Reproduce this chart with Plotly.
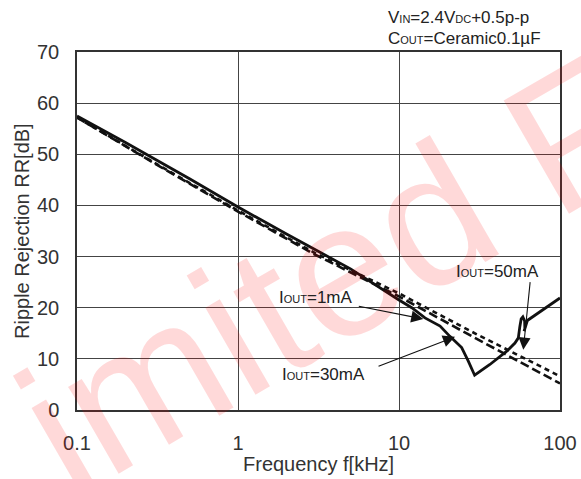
import math
import plotly.graph_objects as go

# ---- data ----
freq_30mA = [0.1, 0.2, 0.5, 1, 2, 5, 10, 12, 14.5, 18, 20.7, 24.5, 26.9, 29.5,
             36.7, 46.7, 52.5, 55.1, 56.3, 57.4, 58.8, 60.3, 60.5, 59.8, 62.7, 100]
rr_30mA = [57.5, 52.3, 45.2, 39.7, 34.4, 27.6, 21.5, 20.0, 18.0, 16.4, 14.4, 12.2, 9.6, 6.8,
           8.9, 11.5, 13.1, 14.1, 16.3, 17.8, 18.2, 17.4, 15.9, 15.4, 17.5, 21.9]

freq_1mA = [0.1, 0.3, 1, 3, 10, 30, 100]
rr_1mA = [57.2, 48.3, 38.8, 30.4, 22.2, 14.0, 5.2]

freq_50mA = [0.1, 0.3, 1, 3, 10, 30, 100]
rr_50mA = [57.2, 48.4, 39.0, 30.7, 22.8, 14.9, 6.6]

x_tickvals = [0.1, 1, 10, 100]
x_ticktext = ["0.1", "1", "10", "100"]
y_tickvals = [0, 10, 20, 30, 40, 50, 60, 70]

FONT = "Liberation Sans, Arial, Helvetica, sans-serif"
W, H = 581, 479
L, R, T, B = 77, 21, 52, 69
PW, PH = W - L - R, H - T - B

def px_to_paper(px, py):
    return (px - L) / PW, (H - B - py) / PH

fig = go.Figure()
fig.add_trace(go.Scatter(x=freq_1mA, y=rr_1mA, mode="lines", name="IOUT=1mA",
                         line=dict(color="#111", width=2.6, dash="9px,4px")))
fig.add_trace(go.Scatter(x=freq_50mA, y=rr_50mA, mode="lines", name="IOUT=50mA",
                         line=dict(color="#111", width=2.6, dash="5px,4px")))
fig.add_trace(go.Scatter(x=freq_30mA, y=rr_30mA, mode="lines", name="IOUT=30mA",
                         line=dict(color="#111", width=2.8)))

small = lambda s: f"<span style='font-size:11px'>{s}</span>"
ann = []
# watermark (drawn first, semi-transparent)
wx, wy = px_to_paper(284, 302)
ann.append(dict(x=wx, y=wy, xref="paper", yref="paper", text="Limited F", showarrow=False,
                textangle=-30, xanchor="center", yanchor="middle",
                font=dict(size=190, color="rgba(255,0,0,0.15)", family=FONT)))

# condition text
for txt, py in [("V" + small("IN") + "=2.4V" + small("DC") + "+0.5p-p", 17),
                ("C" + small("OUT") + "=Ceramic0.1µF", 38)]:
    xp, yp = px_to_paper(386, py)
    ann.append(dict(x=xp, y=yp, xref="paper", yref="paper", text=txt, showarrow=False,
                    xanchor="left", yanchor="middle", font=dict(size=17, color="#222", family=FONT)))

# labels with arrows (tip in data coords, tail offset in px)
labels = [("I" + small("OUT") + "=1mA", 277, 297, 1.151, 17.8, -66, -13),
          ("I" + small("OUT") + "=30mA", 280, 374, 1.348, 14.3, -78, 30),
          ("I" + small("OUT") + "=50mA", 454, 271, 1.772, 11.8, 7, -69)]
for txt, lx, ly, tx, ty, ax, ay in labels:
    xp, yp = px_to_paper(lx, ly)
    ann.append(dict(x=xp, y=yp, xref="paper", yref="paper", text=txt, showarrow=False,
                    xanchor="left", yanchor="middle", font=dict(size=17, color="#222", family=FONT)))
    ann.append(dict(x=tx, y=ty, xref="x", yref="y", text="", showarrow=True, ax=ax, ay=ay,
                    arrowhead=2, arrowsize=2.2, arrowwidth=1.1, arrowcolor="#111", standoff=0))

# axis titles
xp, yp = px_to_paper(22, 231)
ann.append(dict(x=xp, y=yp, xref="paper", yref="paper", text="Ripple Rejection RR[dB]",
                showarrow=False, textangle=-90, xanchor="center", yanchor="middle",
                font=dict(size=20, color="#333", family=FONT)))
xp, yp = px_to_paper(318, 464)
ann.append(dict(x=xp, y=yp, xref="paper", yref="paper", text="Frequency f[kHz]",
                showarrow=False, xanchor="center", yanchor="middle",
                font=dict(size=20, color="#333", family=FONT)))

fig.update_layout(
    width=W, height=H, margin=dict(l=L, r=R, t=T, b=B, autoexpand=False),
    paper_bgcolor="white", plot_bgcolor="white", showlegend=False,
    font=dict(family=FONT, color="#333"),
    annotations=ann,
    xaxis=dict(type="log", range=[-1, 2], tickvals=x_tickvals, ticktext=x_ticktext,
               showgrid=True, gridcolor="#444", gridwidth=1, showline=True, mirror=True,
               linecolor="#333", linewidth=1.5, ticks="", zeroline=False, automargin=False,
               tickfont=dict(size=20, color="#333"), ticklabelstandoff=14),
    yaxis=dict(range=[0, 70], tickvals=y_tickvals, showgrid=True, gridcolor="#444",
               gridwidth=1, showline=True, mirror=True, linecolor="#333", linewidth=1.5,
               ticks="", zeroline=False, automargin=False,
               tickfont=dict(size=20, color="#333"), ticklabelstandoff=12),
)
fig.write_html("out.html")
